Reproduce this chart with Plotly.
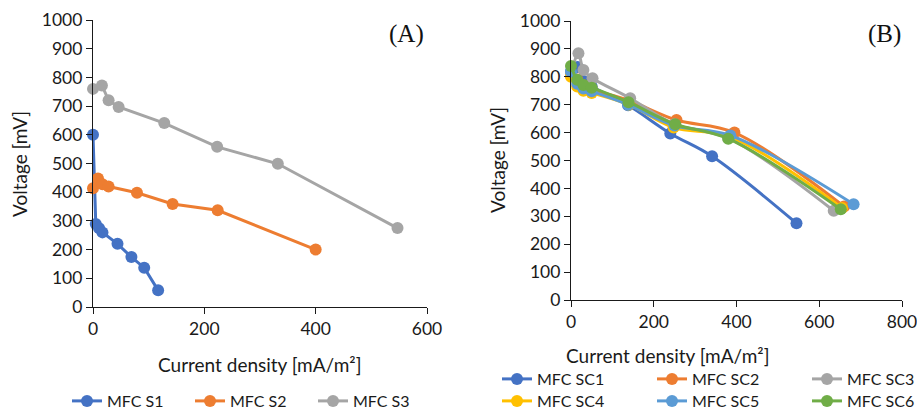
import plotly.graph_objects as go

# ---- Panel (A): single-chamber MFCs S1-S3 ----
s1_x = [0, 5, 11, 17, 44, 69, 92, 117]
s1_v = [600, 289, 274, 260, 220, 174, 137, 58]
s2_x = [0, 9, 17, 28, 79, 143, 224, 400]
s2_v = [414, 448, 428, 420, 398, 359, 337, 200]
s3_x = [0, 16, 28, 46, 128, 223, 332, 547]
s3_v = [760, 772, 720, 697, 641, 558, 499, 275]

# ---- Panel (B): MFCs SC1-SC6 ----
sc1_x = [0, 16, 30, 50, 138, 240, 341, 545]
sc1_v = [820, 835, 785, 765, 698, 597, 515, 275]
sc2_x = [0, 15, 30, 50, 140, 255, 395, 660]
sc2_v = [805, 790, 770, 755, 715, 645, 600, 335]
sc3_x = [0, 18, 30, 52, 143, 250, 380, 635]
sc3_v = [812, 884, 824, 795, 723, 630, 580, 320]
sc4_x = [0, 15, 30, 50, 140, 248, 385, 655]
sc4_v = [800, 765, 750, 742, 700, 618, 585, 330]
sc5_x = [0, 15, 30, 50, 138, 250, 385, 683]
sc5_v = [818, 775, 758, 748, 700, 625, 590, 343]
sc6_x = [0, 15, 30, 50, 139, 252, 380, 652]
sc6_v = [839, 789, 771, 761, 709, 630, 578, 325]

BLUE, ORANGE, GRAY = "#4472C4", "#ED7D31", "#A5A5A5"
YELLOW, LBLUE, GREEN = "#FFC000", "#5B9BD5", "#70AD47"

FONT = "Lato"
INK = "#1a1a1a"
W, H = 917, 412

fig = go.Figure()

def add(x, y, name, color, xa, ya, legend, shape):
    fig.add_trace(go.Scatter(
        x=x, y=y, name=name, mode="lines+markers",
        line=dict(color=color, width=3, shape=shape),
        marker=dict(color=color, size=12),
        xaxis=xa, yaxis=ya, legend=legend, cliponaxis=False,
    ))

add(s1_x, s1_v, "MFC S1", BLUE, "x", "y", "legend", "linear")
add(s2_x, s2_v, "MFC S2", ORANGE, "x", "y", "legend", "linear")
add(s3_x, s3_v, "MFC S3", GRAY, "x", "y", "legend", "linear")

add(sc1_x, sc1_v, "MFC SC1", BLUE, "x2", "y2", "legend2", "spline")
add(sc2_x, sc2_v, "MFC SC2", ORANGE, "x2", "y2", "legend2", "spline")
add(sc3_x, sc3_v, "MFC SC3", GRAY, "x2", "y2", "legend2", "spline")
add(sc4_x, sc4_v, "MFC SC4", YELLOW, "x2", "y2", "legend3", "spline")
add(sc5_x, sc5_v, "MFC SC5", LBLUE, "x2", "y2", "legend3", "spline")
add(sc6_x, sc6_v, "MFC SC6", GREEN, "x2", "y2", "legend3", "spline")

tickfont = dict(family=FONT, size=17.5, color=INK)
axis_common = dict(showgrid=False, zeroline=False, showline=True,
                   linecolor=INK, linewidth=1.3, ticks="outside",
                   ticklen=6, tickcolor=INK, tickwidth=1.3,
                   tickfont=tickfont, fixedrange=True,
                   ticklabeloverflow="allow")

def px_x(p):
    return p / W

def px_y(p):
    return 1 - p / H

legend_font = dict(family=FONT, size=16, color=INK)

fig.update_layout(
    width=W, height=H,
    margin=dict(l=0, r=0, t=0, b=0, autoexpand=False),
    paper_bgcolor="white", plot_bgcolor="white",
    showlegend=True,
    xaxis=dict(axis_common, domain=[px_x(93), px_x(427)], range=[0, 600],
               dtick=200, anchor="y"),
    yaxis=dict(axis_common, domain=[px_y(307), px_y(20)], range=[0, 1000],
               dtick=100, anchor="x"),
    xaxis2=dict(axis_common, domain=[px_x(571), px_x(902)], range=[0, 800],
                dtick=200, anchor="y2"),
    yaxis2=dict(axis_common, domain=[px_y(300), px_y(21)], range=[0, 1000],
                dtick=100, anchor="x2"),
    legend=dict(orientation="h", x=px_x(67), xanchor="left",
                y=px_y(401), yanchor="middle", font=legend_font,
                entrywidth=78, bgcolor="rgba(0,0,0,0)"),
    legend2=dict(orientation="h", x=px_x(497), xanchor="left",
                 y=px_y(379), yanchor="middle", font=legend_font,
                 entrywidth=110, bgcolor="rgba(0,0,0,0)"),
    legend3=dict(orientation="h", x=px_x(497), xanchor="left",
                 y=px_y(401), yanchor="middle", font=legend_font,
                 entrywidth=110, bgcolor="rgba(0,0,0,0)"),
)

title_font = dict(family=FONT, size=19, color=INK)
annotations = [
    dict(text="Current density [mA/m²]", x=px_x(259), y=px_y(364),
         font=title_font),
    dict(text="Voltage [mV]", x=px_x(19), y=px_y(164), textangle=-90,
         font=title_font),
    dict(text="Current density [mA/m²]", x=px_x(667), y=px_y(355),
         font=title_font),
    dict(text="Voltage [mV]", x=px_x(497), y=px_y(160), textangle=-90,
         font=title_font),
    dict(text="(A)", x=px_x(406), y=px_y(34),
         font=dict(family="Liberation Serif", size=25, color="#111111")),
    dict(text="(B)", x=px_x(884), y=px_y(34),
         font=dict(family="Liberation Serif", size=25, color="#111111")),
]
for a in annotations:
    fig.add_annotation(xref="paper", yref="paper", showarrow=False,
                       xanchor="center", yanchor="middle", **a)

fig.write_html("out.html")
